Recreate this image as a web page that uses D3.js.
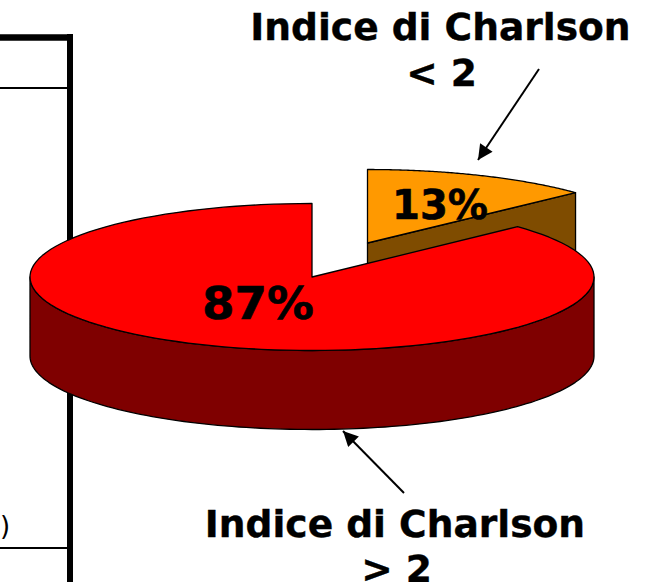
<!DOCTYPE html>
<html><head><meta charset="utf-8">
<style>html,body{margin:0;padding:0;background:#fff}svg{display:block}text{font-family:"DejaVu Sans";font-weight:700;fill:#000}</style>
<script src="https://cdn.jsdelivr.net/npm/d3@7/dist/d3.min.js"></script>
</head><body><svg id="c" width="648" height="582"></svg>
<script>
const categories = ["Indice di Charlson < 2", "Indice di Charlson > 2"];
const values = [13, 87];
const labels = ["13%", "87%"];
const colors = ["#ff9900", "#ff0000"];
const sideColors = ["#7f4c00", "#7f0000"];

const svg = d3.select("#c");
const cx = 312, cy = 277, rx = 282, ry = 73.5, depth = 79;
const explode = [[55.5, -34], [0, 0]];
const widen = [1.012, 1];

// frame behind the pie
const frame = [
  {x1:0,y1:37.5,x2:73,y2:37.5,w:6.5},
  {x1:70,y1:34,x2:70,y2:582,w:6},
  {x1:0,y1:88,x2:67,y2:88,w:2},
  {x1:0,y1:548,x2:67,y2:548,w:2}
];
svg.selectAll("line.f").data(frame).join("line").attr("class","f")
  .attr("x1",d=>d.x1).attr("y1",d=>d.y1).attr("x2",d=>d.x2).attr("y2",d=>d.y2)
  .attr("stroke","#000").attr("stroke-width",d=>d.w);
svg.append("text").attr("x",0).attr("y",535).attr("font-size",26).style("font-weight",400).text(")");

const arcs = d3.pie().sort(null)(values);
const sx = d3.scaleLinear().domain([-1,1]).range([-rx,rx]);
const sy = d3.scaleLinear().domain([-1,1]).range([ry,-ry]);
const pt = (t,o,dy=0,k=1)=>[cx+o[0]+k*sx(Math.sin(t)), cy+o[1]+sy(Math.cos(t))+dy];
const rimPts = (a,b,o,dy=0,k=1)=>{const n=120;return d3.range(n+1).map(i=>pt(a+(b-a)*i/n,o,dy,k));};
const line = d3.line();
const draw = (pts,fill)=>svg.append("path").attr("d",line(pts)+"Z").attr("fill",fill)
  .attr("stroke","#000").attr("stroke-width",1.3).attr("stroke-linejoin","round");

// small slice: cut face then top
{
  const a=arcs[0], o=explode[0], k=widen[0], ap=[cx+o[0],cy+o[1]], e=pt(a.endAngle,o,0,k);
  draw([ap,e,[e[0],e[1]+depth],[ap[0],ap[1]+depth]],sideColors[0]);
  draw([ap,...rimPts(a.startAngle,a.endAngle,o,0,k)],colors[0]);
}
// big slice: outer wall then top
{
  const a=arcs[1], o=explode[1];
  const s=Math.PI/2, f=3*Math.PI/2;
  draw([...rimPts(s,f,o),...rimPts(f,s,o,depth)],sideColors[1]);
  draw([[cx,cy],...rimPts(a.startAngle,a.endAngle,o)],colors[1]);
}

// percentage labels
const labelPos=[[440,219],[258,319]];
const lsize=[40,44];
const lwidth=[96,112];
svg.selectAll("text.p").data(labels).join("text").attr("class","p")
  .attr("x",(d,i)=>labelPos[i][0]).attr("y",(d,i)=>labelPos[i][1])
  .attr("text-anchor","middle").attr("font-size",(d,i)=>lsize[i])
  .attr("textLength",(d,i)=>lwidth[i]).attr("lengthAdjust","spacingAndGlyphs")
  .attr("stroke","#000").attr("stroke-width",0.6).text(d=>d);

// callouts
const titles=[
  {t:"Indice di Charlson",x:440.5,y:40},{t:"< 2",x:441.5,y:86},
  {t:"Indice di Charlson",x:395,y:537},{t:"> 2",x:396.5,y:582}
];
svg.selectAll("text.t").data(titles).join("text").attr("class","t")
  .attr("x",d=>d.x).attr("y",d=>d.y).attr("text-anchor","middle").attr("font-size",37.6)
  .attr("stroke","#000").attr("stroke-width",0.4).text(d=>d.t);

const defs=svg.append("defs");
defs.append("marker").attr("id","ah").attr("viewBox","0 0 10 10").attr("refX",10).attr("refY",5)
  .attr("markerUnits","userSpaceOnUse").attr("markerWidth",18).attr("markerHeight",15).attr("orient","auto")
  .append("path").attr("d","M0,0L10,5L0,10Z").attr("fill","#000");
const arrows=[[539,69,478,160],[404,493,343,431]];
svg.selectAll("line.a").data(arrows).join("line").attr("class","a")
  .attr("x1",d=>d[0]).attr("y1",d=>d[1]).attr("x2",d=>d[2]).attr("y2",d=>d[3])
  .attr("stroke","#000").attr("stroke-width",2).attr("marker-end","url(#ah)");
</script></body></html>
